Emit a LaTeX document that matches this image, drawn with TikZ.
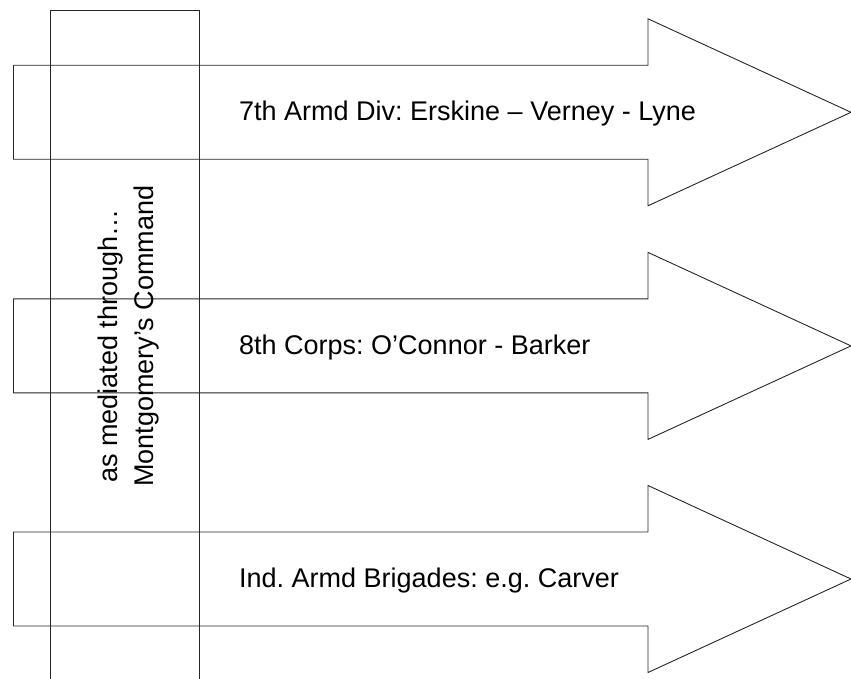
\documentclass[tikz,border=0pt]{standalone}
\usepackage{fontspec}
\setmainfont{Liberation Sans}
\frenchspacing
\begin{document}
\begin{tikzpicture}[x=1pt,y=1pt,
  outline/.style={draw=black!85,line width=0.9pt},
  lbl/.style={anchor=base west,inner sep=0pt,font=\fontsize{27}{32}\selectfont},
  vlbl/.style={anchor=base,inner sep=0pt,rotate=90,font=\fontsize{27}{32}\selectfont}]
\useasboundingbox (0,0) rectangle (851,678);
% arrows (centre y in TikZ coordinates = 678 - pixel y)
\foreach \c in {565.7,332.1,99.0}{
  \draw[outline] (13.5,\c+47) -- (648,\c+47) -- (648,\c+93.5) -- (851,\c)
    -- (648,\c-93.5) -- (648,\c-47) -- (13.5,\c-47) -- cycle;
}
% vertical band
\draw[outline] (50.3,-10) -- (50.3,667.3) -- (199,667.3) -- (199,-10);
% labels
\node[lbl] (t1) at (239,565.7-8.5) {7th Armd Div: Erskine – Verney - Lyne};
\node[lbl] (t2) at (239,332.1-8.5) {8th Corps: O’Connor - Barker};
\node[lbl] (t3) at (239,99.0-8.5) {Ind. Armd Brigades: e.g. Carver};
\node[vlbl] (v1) at (117.5,332) {as mediated through…};
\node[vlbl] (v2) at (153,342) {Montgomery’s Command};
\end{tikzpicture}
\end{document}
